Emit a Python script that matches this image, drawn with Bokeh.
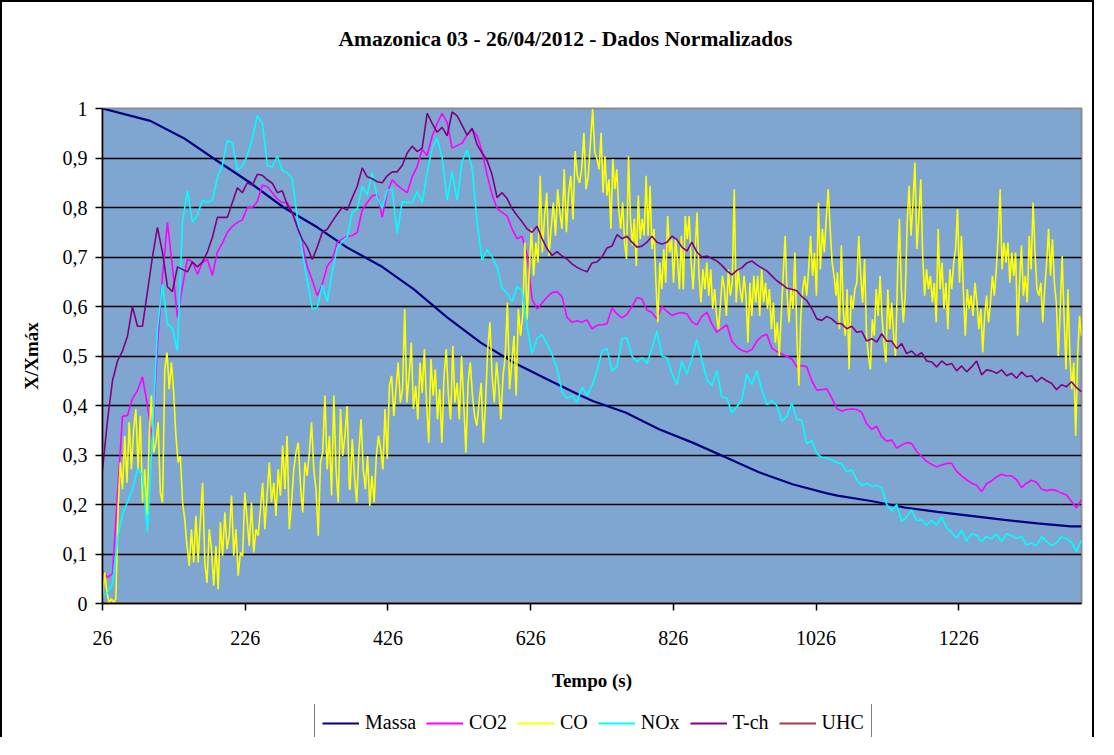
import numpy as np
from bokeh.plotting import figure
from bokeh.layouts import column
from bokeh.models import Range1d, FixedTicker, CustomJSTickFormatter, Legend, LegendItem
from bokeh.embed import file_html
from bokeh.resources import INLINE

# ---------------- data ----------------
title_text = "Amazonica 03  - 26/04/2012 - Dados Normalizados"
x_ticks = [26, 226, 426, 626, 826, 1026, 1226]
y_ticks = [0.0, 0.1, 0.2, 0.3, 0.4, 0.5, 0.6, 0.7, 0.8, 0.9, 1.0]
series_names = ["Massa", "CO2", "CO", "NOx", "T-ch", "UHC"]

# time grid (s) for the CO2, NOx and T-ch readings
t_grid = np.arange(26, 1399, 7)

massa_t = [26, 93, 140, 187, 233, 280, 327, 369, 416, 462, 509, 556, 602, 649, 696, 713,
           759, 806, 853, 900, 946, 993, 1040, 1056, 1103, 1150, 1196, 1243, 1290, 1336, 1383, 1398]
massa_v = [1.0, .975, .94, .894, .85, .80, .76, .719, .682, .635, .578, .527, .487, .453, .42, .409,
           .386, .352, .325, .295, .265, .241, .223, .218, .207, .194, .185, .177, .169, .162, .156, .156]

co2_v = [.066, .053, .06, .22, .378, .38, .414, .43, .458, .40,
         .33, .52, .66, .77, .68, .578, .64, .696, .69, .665,
         .689, .695, .663, .71, .728, .75, .762, .77, .775, .80,
         .80, .812, .845, .842, .83, .817, .81, .81, .79, .762,
         .727, .68, .653, .622, .645, .682, .695, .73, .736, .742,
         .743, .75, .795, .81, .823, .827, .78, .83, .856, .845,
         .837, .83, .862, .883, .917, .905, .944, .97, .99, .972,
         .92, .925, .93, .947, .958, .945, .913, .866, .826, .798,
         .79, .783, .757, .737, .742, .705, .615, .595, .607, .619,
         .628, .63, .62, .578, .568, .571, .568, .573, .555,
         .562, .563, .565, .597, .585, .577, .584, .60, .618, .615,
         .593, .588, .575, .60, .59, .582, .586, .588, .585, .569,
         .563, .58, .588, .565, .548, .556, .563, .53, .518, .511,
         .508, .513, .53, .54, .544, .516, .509, .504, .499, .494,
         .478, .481, .478, .45, .431, .432, .434, .415, .394,
         .389, .392, .393, .392, .386, .363, .352, .358, .337, .328,
         .33, .314, .32, .325, .323, .307, .297, .287, .281, .276,
         .28, .283, .283, .267, .258, .25, .243, .239, .226, .242,
         .248, .256, .261, .258, .258, .25, .234, .243, .249, .245,
         .231, .228, .23, .228, .223, .219, .206, .193, .21]

nox_v = [.016, .022, .04, .13, .18, .205, .23, .272, .26, .145,
         .34, .555, .645, .565, .556, .51, .77, .835, .77, .785,
         .815, .81, .815, .86, .885, .936, .93, .876, .883, .905,
         .94, .985, .97, .885, .882, .904, .875, .87, .858, .78,
         .71, .652, .595, .598, .643, .61, .67, .718, .732, .74,
         .79, .797, .843, .825, .87, .82, .798, .835, .837, .748,
         .812, .81, .81, .832, .81, .87, .92, .94, .90, .815,
         .873, .815, .893, .916, .88, .77, .693, .715, .70, .68,
         .637, .627, .61, .64, .632, .56, .505, .535, .543, .525,
         .503, .475, .428, .414, .42, .407, .437, .42, .44,
         .47, .51, .515, .47, .478, .535, .537, .50, .488, .497,
         .485, .515, .55, .50, .497, .465, .442, .49, .463, .495,
         .533, .492, .453, .44, .47, .417, .415, .385, .397, .412,
         .463, .442, .47, .432, .402, .41, .40, .368, .378, .405,
         .372, .37, .323, .33, .303, .295, .294, .29, .285,
         .282, .266, .27, .25, .238, .243, .237, .238, .235, .20,
         .187, .20, .165, .175, .189, .167, .169, .158, .168, .158,
         .175, .153, .144, .132, .148, .126, .141, .138, .125, .135,
         .131, .141, .125, .141, .137, .131, .136, .118, .122, .117,
         .135, .125, .117, .122, .135, .131, .124, .105, .128]

tch_v = [.27, .37, .45, .49, .51, .54, .60, .56, .56, .63,
         .70, .76, .71, .64, .63, .68, .675, .67, .69, .68,
         .69, .71, .74, .78, .78, .78, .81, .84, .83, .85,
         .845, .867, .865, .856, .849, .83, .834, .805, .79, .76,
         .735, .72, .695, .72, .75, .756, .772, .787, .80, .795,
         .82, .843, .88, .862, .858, .852, .85, .864, .872, .872,
         .885, .91, .924, .913, .92, .99, .97, .952, .962, .945,
         .993, .985, .966, .946, .96, .927, .91, .895, .866, .82,
         .83, .818, .798, .784, .771, .757, .75, .762, .737, .717,
         .703, .711, .702, .696, .686, .679, .674, .67, .688,
         .69, .70, .718, .722, .745, .737, .742, .73, .72, .722,
         .73, .742, .73, .726, .73, .742, .735, .72, .712, .73,
         .71, .70, .702, .697, .692, .683, .672, .664, .673, .678,
         .688, .692, .684, .678, .672, .662, .652, .645, .637, .635,
         .632, .62, .612, .596, .575, .572, .58, .575, .566,
         .565, .555, .56, .548, .55, .53, .535, .528, .545, .53,
         .53, .515, .525, .505, .51, .50, .507, .49, .488, .478,
         .49, .482, .485, .47, .48, .468, .478, .49, .462, .472,
         .47, .465, .472, .46, .465, .455, .468, .458, .46, .448,
         .457, .45, .445, .432, .442, .438, .448, .436, .428]

co_v = [.009, .063, .022, .002, .009, .002, .009, .19, .285, .231,
        .339, .244, .366, .271, .352, .393, .271, .379, .204, .271,
        .177, .339, .42, .305, .325, .366, .224, .204, .473, .507,
        .433, .487, .426, .339, .285, .298, .204, .17, .116, .076,
        .15, .083, .177, .083, .17, .244, .083, .042, .15, .11,
        .036, .116, .029, .164, .096, .184, .11, .137, .218, .096,
        .15, .056, .103, .096, .224, .17, .116, .204, .103, .15,
        .137, .19, .244, .15, .218, .285, .204, .244, .177, .271,
        .218, .319, .231, .339, .15, .204, .271, .305, .325, .238,
        .184, .285, .258, .305, .366, .271, .231, .137, .285, .305,
        .42, .271, .339, .218, .42, .271, .204, .393, .298, .339,
        .399, .231,
        .231, .332, .258, .204, .305, .372, .271, .231, .298, .197,
        .258, .204, .298, .339, .312, .271, .393, .292, .44, .46,
        .379, .433, .487, .406, .433, .595, .406, .46, .527, .393,
        .44, .372, .487, .426, .514, .406, .325, .494, .42, .473,
        .372, .433, .325, .46, .514, .42, .372, .52, .406, .446,
        .372, .5, .406, .305, .446, .487, .42, .379, .359, .406,
        .446, .325, .406, .514, .568, .46, .406, .487, .44, .372,
        .46, .5, .608, .433, .487, .541, .42, .595, .541, .581,
        .729, .574, .675, .757, .662, .729, .689, .864, .709, .783,
        .83, .702, .757, .81, .743, .837, .79, .757, .877, .75,
        .83, .864, .776, .914, .864, .85, .877, .951, .837, .864,
        .931, .999, .911, .898,
        .877, .951, .83, .904, .824, .857, .757, .898, .837, .877,
        .797, .757, .81, .729, .696, .904, .777, .723, .777, .682,
        .824, .736, .777, .743, .864, .743, .844, .716, .757, .648,
        .568, .689, .635, .716, .648, .783, .709, .736, .648, .736,
        .696, .635, .743, .635, .783, .736, .783, .689, .635, .709,
        .79, .662, .608, .675, .635, .689, .622, .675, .595, .635,
        .581, .554, .608, .662, .635, .581, .675, .622, .648, .837,
        .608, .675, .635, .608, .662, .622, .527, .648, .581, .662,
        .608, .662, .581, .675, .608, .648, .595, .635, .554, .608,
        .527, .568, .5, .581, .662, .743, .622, .568, .635, .595,
        .709, .541, .44, .581, .635, .662, .622, .675, .743, .662,
        .709, .622, .81, .675, .757, .709, .777, .837, .757, .689,
        .662, .622,
        .669, .554, .723, .595, .541, .635, .473, .622, .595, .635,
        .648, .743, .662, .608, .696, .541, .5, .473, .574, .541,
        .635, .581, .662, .581, .527, .487, .635, .554, .608, .541,
        .5, .662, .777, .635, .568, .622, .77, .844, .743, .81,
        .891, .716, .777, .857, .702, .622, .675, .635, .662, .608,
        .648, .568, .757, .635, .689, .595, .648, .554, .675, .635,
        .689, .716, .797, .648, .743, .635, .541, .635, .595, .622,
        .581, .648, .608, .554, .595, .507, .581, .622, .568, .608,
        .662, .622, .675, .743, .837, .675, .729, .689, .729, .648,
        .709, .662, .709, .541, .648, .723, .622, .662, .608, .743,
        .675, .81, .709, .635, .622, .648, .568, .635, .689, .757,
        .662, .736, .648, .608, .5, .595, .702, .581, .473, .635,
        .5, .433, .487, .339, .5, .581, .541]
# CO readings were taken in four stretches of the time axis (s)
co_t = np.concatenate([np.linspace(26, 372, 112), np.linspace(373, 719, 114),
                       np.linspace(722, 1054, 122), np.linspace(1056, 1398, 127)])

uhc_v = [0.0] * len(t_grid)

colors = ["#000080", "#FF00FF", "#FFFF00", "#00FFFF", "#800080", "#A04040"]
serif = "Liberation Serif"

data = [
    (massa_t, massa_v, 2.2),
    (t_grid, co2_v, 1.6),
    (co_t, co_v, 1.6),
    (t_grid, nox_v, 1.6),
    (t_grid, tch_v, 1.6),
    (t_grid, uhc_v, 2.0),
]

# ---------------- main chart ----------------
p = figure(width=1094, height=704, output_backend="svg", toolbar_location=None,
           x_range=Range1d(26, 1398), y_range=Range1d(0, 1),
           min_border_left=100, min_border_right=15, min_border_top=106, min_border_bottom=103)
p.styles = {"border-top": "2px solid #000000", "border-left": "2px solid #000000",
            "border-right": "2px solid #000000"}

p.background_fill_color = "#7FA6D1"
p.border_fill_color = "white"
p.outline_line_color = "#8C8C8C"
p.outline_line_width = 2

# trailing empty lines lift the title line upwards within its panel
p.title.text = title_text + "\n\n"
p.title.align = "left"
p.title.offset = 236
p.title.text_font = serif
p.title.text_font_style = "bold"
p.title.text_font_size = "21.5px"
p.title.text_color = "black"
p.title.standoff = 20

for ax in (p.xaxis[0], p.yaxis[0]):
    ax.axis_line_color = "black"
    ax.axis_line_width = 1.5
    ax.major_tick_line_color = "black"
    ax.major_tick_line_width = 1.5
    ax.major_tick_in = 0
    ax.major_tick_out = 7
    ax.minor_tick_line_color = None
    ax.major_label_text_font = serif
    ax.major_label_text_font_size = "20px"
    ax.major_label_text_color = "black"
    ax.axis_label_text_font = serif
    ax.axis_label_text_font_style = "bold"
    ax.axis_label_text_font_size = "19px"
    ax.axis_label_text_color = "black"

p.xaxis.ticker = FixedTicker(ticks=x_ticks)
p.yaxis.ticker = FixedTicker(ticks=y_ticks)
p.yaxis.formatter = CustomJSTickFormatter(
    code="return (Math.round(tick*10)/10).toString().replace('.', ',');")
p.xaxis.axis_label = "Tempo (s)"
p.yaxis.axis_label = "X/Xmáx"
p.xaxis.major_label_standoff = 20
p.yaxis.major_label_standoff = 8
p.xaxis.axis_label_standoff = 22
p.yaxis.axis_label_standoff = 18

p.xgrid.visible = False
p.ygrid.ticker = FixedTicker(ticks=y_ticks[1:-1])
p.ygrid.grid_line_color = "black"
p.ygrid.grid_line_width = 1.5

for name, (t, v, w), c in zip(series_names, data, colors):
    assert len(t) == len(v), name
    p.line(list(t), list(v), line_color=c, line_width=w)

# ---------------- legend strip below the chart ----------------
# same series, but this strip's y range lies above the data, so only the legend shows
pl = figure(width=1094, height=33, output_backend="svg", toolbar_location=None,
            x_range=Range1d(26, 1398), y_range=Range1d(2, 3),
            x_axis_location=None, y_axis_location=None,
            min_border_left=100, min_border_right=15, min_border_top=0, min_border_bottom=0)
pl.styles = {"border-left": "2px solid #000000", "border-right": "2px solid #000000"}
pl.outline_line_color = None
pl.background_fill_color = "white"
pl.border_fill_color = "white"
pl.grid.visible = False

items = []
for name, (t, v, w), c in zip(series_names, data, colors):
    r = pl.line(list(t), list(v), line_color=c, line_width=1.8)
    items.append(LegendItem(label=name, renderers=[r]))

legend = Legend(items=items, orientation="horizontal", location=(212, -5))
legend.label_text_font = serif
legend.label_text_font_size = "20px"
legend.label_text_color = "black"
legend.glyph_width = 37
legend.glyph_height = 20
legend.label_standoff = 6
legend.spacing = 10
legend.padding = 7
legend.margin = 0
legend.border_line_color = "black"
legend.border_line_width = 1.5
legend.background_fill_color = "white"
legend.background_fill_alpha = 1.0
pl.add_layout(legend, "center")

layout = column(p, pl)
open("out.html", "w").write(file_html(layout, INLINE))
